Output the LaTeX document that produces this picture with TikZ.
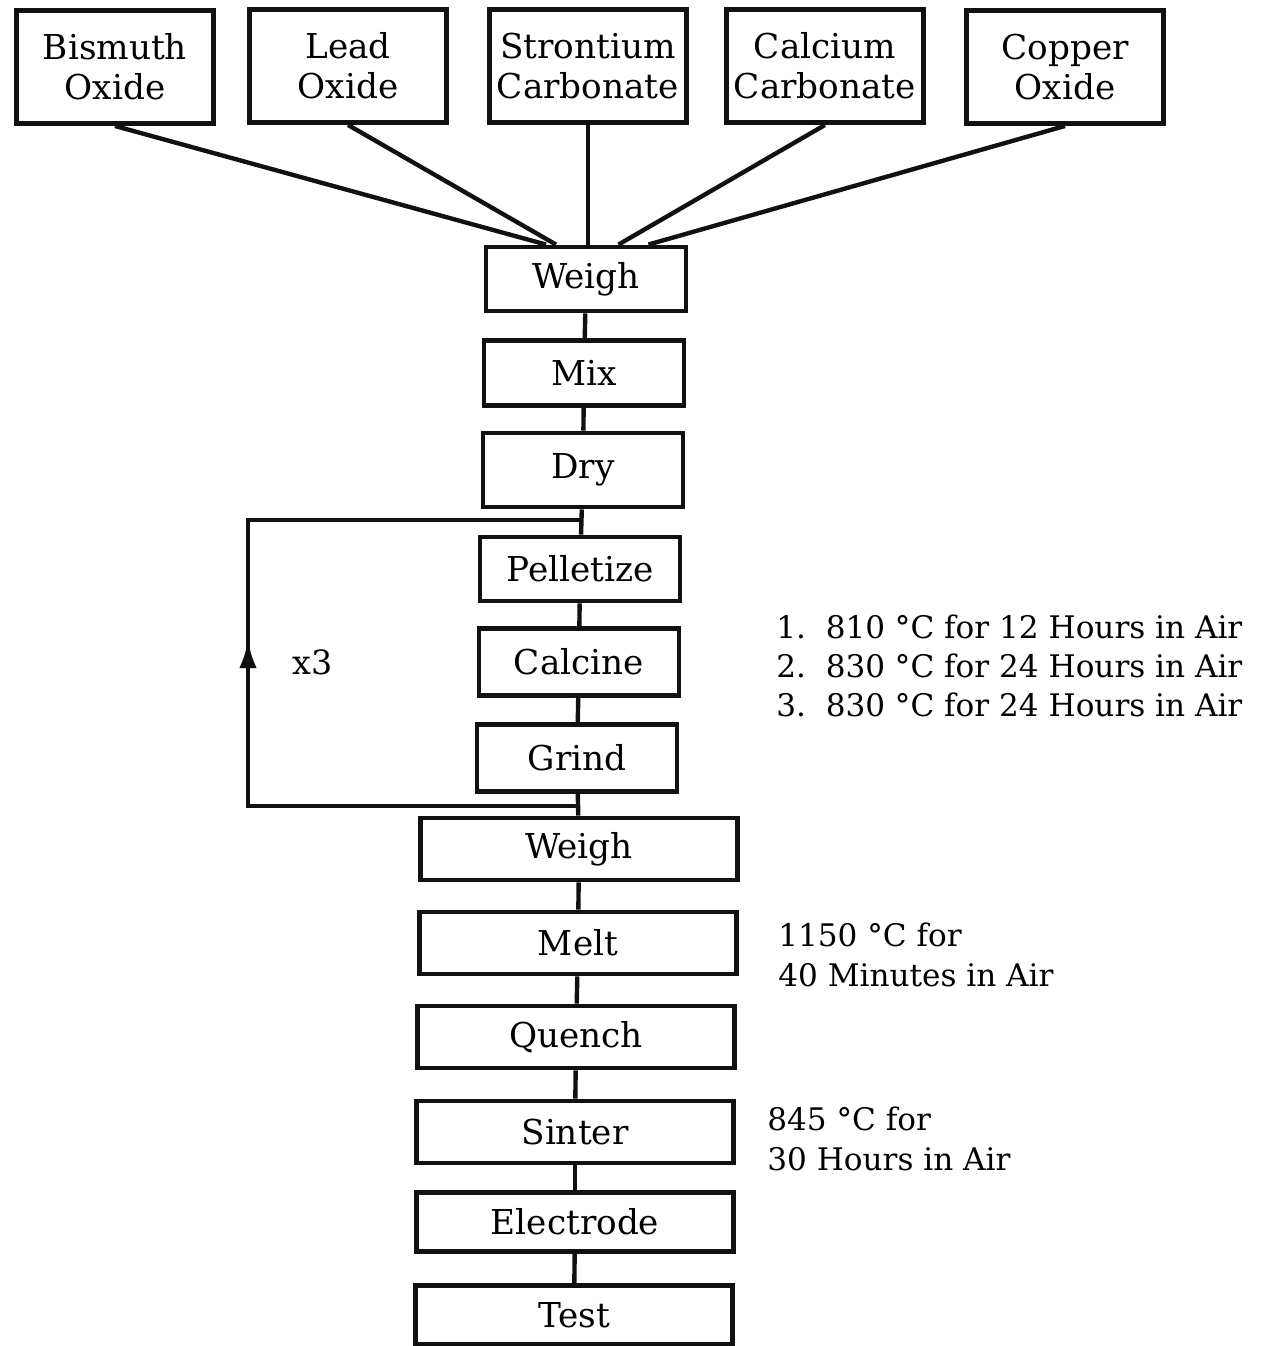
\documentclass[tikz,border=0pt]{standalone}
\usepackage{fontspec}
\setmainfont{DejaVu Serif}
\usepackage{tikz}
\usetikzlibrary{arrows.meta,positioning,calc}
\definecolor{inkblack}{HTML}{111111}

\tikzset{
  rawbox/.style={draw=inkblack, line width=2.8pt, minimum width=3.95cm, minimum height=2.26cm,
    align=center, inner sep=0pt, font=\fontsize{19.5}{22.8}\selectfont},
  stepbox/.style={draw=inkblack, line width=2.8pt, minimum width=4cm, minimum height=1.28cm,
    inner sep=0pt, font=\fontsize{19.5}{22}\selectfont},
  widebox/.style={stepbox, minimum width=6.34cm, minimum height=1.24cm},
  link/.style={inkblack, line width=2.5pt},
  note/.style={align=left, anchor=west, inner sep=0pt, font=\fontsize{17.7}{22.4}\selectfont}
}

\begin{document}
\begin{tikzpicture}[x=0.02cm, y=-0.02cm]
      \useasboundingbox (0,0) rectangle (1267,1346);
      % raw powders
      \node[rawbox] (bi) at (115,67) {Bismuth\\Oxide};
      \node[rawbox] (pb) at (348,66) {Lead\\Oxide};
      \node[rawbox] (sr) at (588,66) {Strontium\\Carbonate};
      \node[rawbox] (ca) at (825,66) {Calcium\\Carbonate};
      \node[rawbox] (cu) at (1065,67) {Copper\\Oxide};
      % process chain
      \node[stepbox] (w1) at (586,279) {Weigh};
      \node[stepbox, minimum height=1.3cm] (mx) at (584,373) {Mix};
      \node[stepbox, minimum height=1.48cm] (dr) at (583,470) {Dry};
      \node[stepbox] (pl) at (580,569) {Pelletize};
      \node[stepbox, minimum height=1.34cm] (cc) at (579,662) {Calcine};
      \node[stepbox, minimum height=1.34cm] (gr) at (577,758) {Grind};
      \node[widebox] (w2) at (579,849) {Weigh};
      \node[widebox] (ml) at (578,943) {Melt};
      \node[widebox] (qn) at (576,1037) {Quench};
      \node[widebox] (st) at (575,1132) {Sinter};
      \node[widebox, minimum height=1.18cm] (el) at (575,1222) {Electrode};
      \node[widebox, minimum height=1.18cm] (ts) at (574,1315) {Test};

      \draw[link] (bi.south) -- ([xshift=-0.8cm]w1.north);
      \draw[link] (pb.south) -- ([xshift=-0.6cm]w1.north);
      \draw[link] (sr.south) -- (sr.south |- w1.north);
      \draw[link] (ca.south) -- ([xshift=0.65cm]w1.north);
      \draw[link] (cu.south) -- ([xshift=1.25cm]w1.north);

      \draw[link] (w1) -- (mx);
      \draw[link] (mx) -- (dr);
      \draw[link] (dr) -- (pl);
      \draw[link] (pl) -- (cc);
      \draw[link] (cc) -- (gr);
      \draw[link] (gr) -- (w2);
      \draw[link] (w2) -- (ml);
      \draw[link] (ml) -- (qn);
      \draw[link] (qn) -- (st);
      \draw[link] (st) -- (el);
      \draw[link] (el) -- (ts);

      % repeat loop
      \coordinate (lptop) at (583,520);
      \coordinate (lpbot) at (578,806);
      \coordinate (lpl1) at (248,806);
      \coordinate (lpl2) at (248,520);
      \draw[link] (lpbot) -- (lpl1) -- (lpl2) -- (lptop);
      \draw[link, -{Latex[length=16pt, width=10pt]}] (lpl1) -- (248,640);
      \node[font=\fontsize{19}{20}\selectfont] (rep) at (313,662) {x3};

      % conditions
      \node[note] (calnote) at (776,666)
        {1.\ \ 810 °C for 12 Hours in Air\\2.\ \ 830 °C for 24 Hours in Air\\3.\ \ 830 °C for 24 Hours in Air};
      \node[note] (meltnote) at (778,955) {1150 °C for\\40 Minutes in Air};
      \node[note] (sintnote) at (767,1139) {845 °C for\\30 Hours in Air};
    \end{tikzpicture}
\end{document}
